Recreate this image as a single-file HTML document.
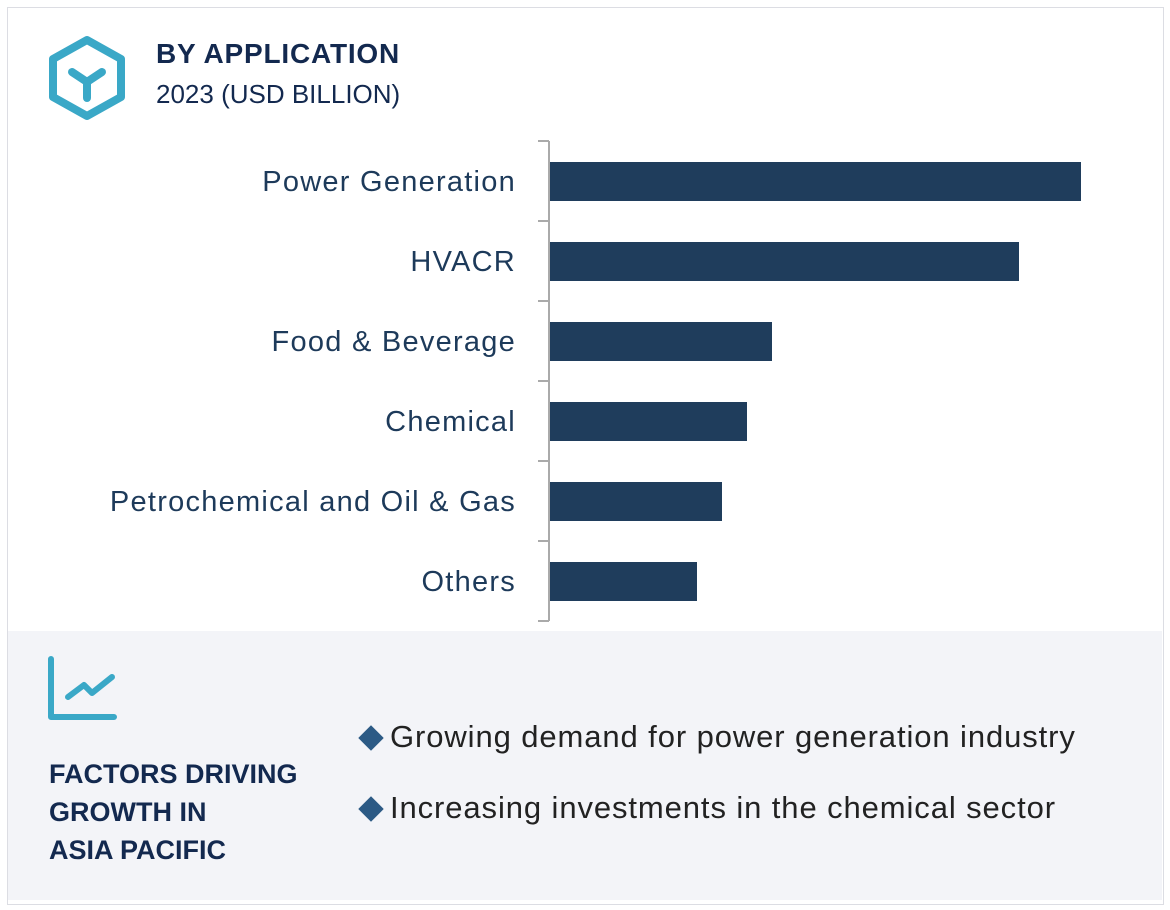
<!DOCTYPE html>
<html><head><meta charset="utf-8">
<style>
body{margin:0;width:1170px;height:910px;background:#fff;font-family:"Liberation Sans",sans-serif;overflow:hidden;position:relative}
#frame{position:absolute;left:7px;top:7px;width:1157px;height:898px;border:1px solid #dcdde3;box-sizing:border-box}
.t1{position:absolute;left:156px;top:38px;font-size:28px;font-weight:bold;color:#13294f;letter-spacing:0.8px}
.t2{position:absolute;left:156px;top:79px;font-size:26px;color:#13294f}
#panel{position:absolute;left:8px;top:631px;width:1154px;height:269px;background:#f3f4f8}
.ft{position:absolute;left:49px;top:755px;font-size:27px;font-weight:bold;color:#13294f;line-height:38px}
.bul{position:absolute;left:358px;font-size:31px;color:#222;letter-spacing:0.9px}
.bul span{display:inline-block;width:18px;height:18px;background:#2c5a85;transform:rotate(45deg);margin:0 10px 0 4px}
</style></head><body>
<div id="frame"></div>
<svg style="position:absolute;left:46px;top:34px" width="82" height="88" viewBox="0 0 82 88">
<polygon points="41,6 75,25 75,63 41,82 7,63 7,25" fill="none" stroke="#3aa8c7" stroke-width="8" stroke-linejoin="round"/>
<path d="M26,38 L41,48 L56,38 M41,48 L41,64" fill="none" stroke="#3aa8c7" stroke-width="8" stroke-linecap="round"/>
</svg>
<div class="t1">BY APPLICATION</div>
<div class="t2">2023 (USD BILLION)</div>
<svg id="chart" style="position:absolute;left:0;top:0" width="1170" height="630"></svg>
<div id="panel"></div>
<svg style="position:absolute;left:46px;top:655px" width="74" height="70">
<path d="M5,4 L5,62 L68,62" fill="none" stroke="#3aa8c7" stroke-width="6" stroke-linecap="round" stroke-linejoin="round"/>
<path d="M22,42 L38,30 L46,38 L66,22" fill="none" stroke="#3aa8c7" stroke-width="6" stroke-linecap="round" stroke-linejoin="round"/>
</svg>
<div class="ft">FACTORS DRIVING<br>GROWTH IN<br>ASIA PACIFIC</div>
<div class="bul" style="top:719px"><span></span>Growing demand for power generation industry</div>
<div class="bul" style="top:790px"><span></span>Increasing investments in the chemical sector</div>
<script>
const categories=["Power Generation","HVACR","Food & Beverage","Chemical","Petrochemical and Oil & Gas","Others"];
const values=[5.32,4.70,2.23,1.98,1.73,1.48];
const svg=document.getElementById('chart');const NS='http://www.w3.org/2000/svg';
const x0=549,pxPerUnit=100,top0=141,band=80;
const xs=v=>x0+v*pxPerUnit;
function mk(t,a){const e=document.createElementNS(NS,t);for(const k in a)e.setAttribute(k,a[k]);svg.appendChild(e);return e;}
const ax=mk('line',{x1:x0,y1:top0,x2:x0,y2:top0+band*categories.length,stroke:'#aaa','stroke-width':2});


for(let i=0;i<=categories.length;i++){
 const t=mk('line',{x1:x0-11,x2:x0,y1:top0+i*band,y2:top0+i*band,stroke:'#aaa','stroke-width':2});
 
 
}
categories.forEach((c,i)=>{
 const y=top0+i*band;
 const r=mk('rect',{x:x0+1,y:y+21,width:xs(values[i])-x0-1,height:39,fill:'#1f3d5c'});
 
 
 const tx=mk('text',{x:516,y:y+50,'text-anchor':'end','font-size':29,'letter-spacing':1.25,fill:'#1d3a5a','font-family':'Liberation Sans, sans-serif'});
 tx.textContent=c;
 
 
});
</script>
</body></html>
